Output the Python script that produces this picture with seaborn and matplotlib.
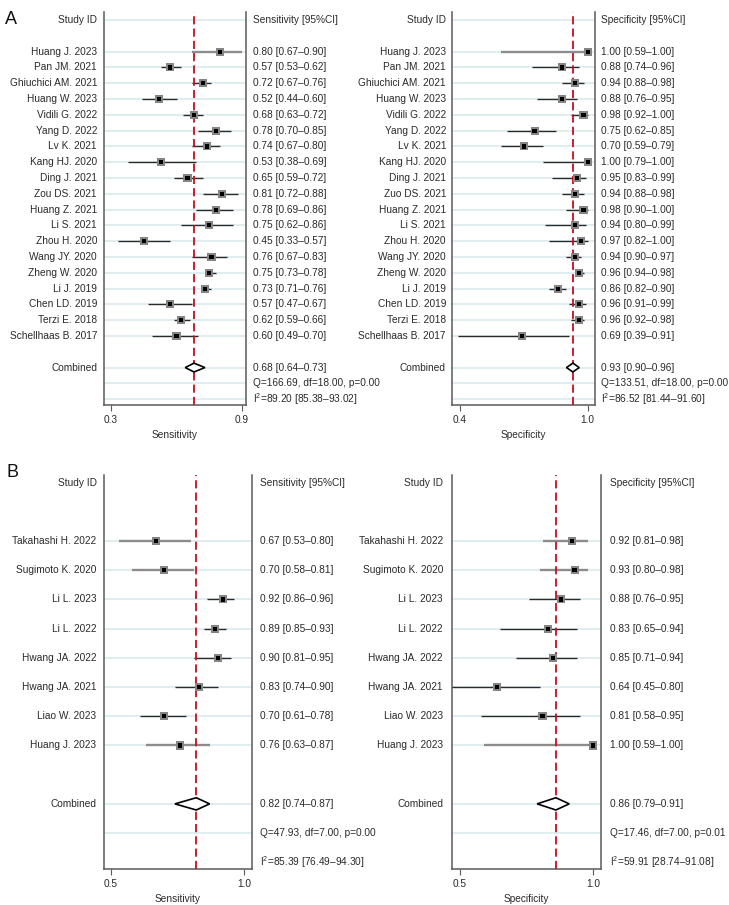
import numpy as np
import pandas as pd
import matplotlib
matplotlib.use("Agg")
import matplotlib.pyplot as plt
import seaborn as sns
from matplotlib.transforms import blended_transform_factory as btf

# ---------------- data: panel A ----------------
studies_a_sens = ["Huang J. 2023", "Pan JM. 2021", "Ghiuchici AM. 2021", "Huang W. 2023",
                  "Vidili G. 2022", "Yang D. 2022", "Lv K. 2021", "Kang HJ. 2020", "Ding J. 2021",
                  "Zou DS. 2021", "Huang Z. 2021", "Li S. 2021", "Zhou H. 2020", "Wang JY. 2020",
                  "Zheng W. 2020", "Li J. 2019", "Chen LD. 2019", "Terzi E. 2018", "Schellhaas B. 2017"]
studies_a_spec = ["Huang J. 2023", "Pan JM. 2021", "Ghiuchici AM. 2021", "Huang W. 2023",
                  "Vidili G. 2022", "Yang D. 2022", "Lv K. 2021", "Kang HJ. 2020", "Ding J. 2021",
                  "Zuo DS. 2021", "Huang Z. 2021", "Li S. 2021", "Zhou H. 2020", "Wang JY. 2020",
                  "Zheng W. 2020", "Li J. 2019", "Chen LD. 2019", "Terzi E. 2018", "Schellhaas B. 2017"]
sens_a = [0.80, 0.57, 0.72, 0.52, 0.68, 0.78, 0.74, 0.53, 0.65, 0.81, 0.78, 0.75, 0.45, 0.76, 0.75, 0.73, 0.57, 0.62, 0.60]
sens_a_lo = [0.67, 0.53, 0.67, 0.44, 0.63, 0.70, 0.67, 0.38, 0.59, 0.72, 0.69, 0.62, 0.33, 0.67, 0.73, 0.71, 0.47, 0.59, 0.49]
sens_a_hi = [0.90, 0.62, 0.76, 0.60, 0.72, 0.85, 0.80, 0.69, 0.72, 0.88, 0.86, 0.86, 0.57, 0.83, 0.78, 0.76, 0.67, 0.66, 0.70]
spec_a = [1.00, 0.88, 0.94, 0.88, 0.98, 0.75, 0.70, 1.00, 0.95, 0.94, 0.98, 0.94, 0.97, 0.94, 0.96, 0.86, 0.96, 0.96, 0.69]
spec_a_lo = [0.59, 0.74, 0.88, 0.76, 0.92, 0.62, 0.59, 0.79, 0.83, 0.88, 0.90, 0.80, 0.82, 0.90, 0.94, 0.82, 0.91, 0.92, 0.39]
spec_a_hi = [1.00, 0.96, 0.98, 0.95, 1.00, 0.85, 0.79, 1.00, 0.99, 0.98, 1.00, 0.99, 1.00, 0.97, 0.98, 0.90, 0.99, 0.98, 0.91]
comb_a_sens = [0.68, 0.64, 0.73]
comb_a_spec = [0.93, 0.90, 0.96]
q_a_sens = [166.69, 18.00, 0.00]
q_a_spec = [133.51, 18.00, 0.00]
i2_a_sens = [89.20, 85.38, 93.02]
i2_a_spec = [86.52, 81.44, 91.60]

# ---------------- data: panel B ----------------
studies_b = ["Takahashi H. 2022", "Sugimoto K. 2020", "Li L. 2023", "Li L. 2022",
             "Hwang JA. 2022", "Hwang JA. 2021", "Liao W. 2023", "Huang J. 2023"]
sens_b = [0.67, 0.70, 0.92, 0.89, 0.90, 0.83, 0.70, 0.76]
sens_b_lo = [0.53, 0.58, 0.86, 0.85, 0.81, 0.74, 0.61, 0.63]
sens_b_hi = [0.80, 0.81, 0.96, 0.93, 0.95, 0.90, 0.78, 0.87]
spec_b = [0.92, 0.93, 0.88, 0.83, 0.85, 0.64, 0.81, 1.00]
spec_b_lo = [0.81, 0.80, 0.76, 0.65, 0.71, 0.45, 0.58, 0.59]
spec_b_hi = [0.98, 0.98, 0.95, 0.94, 0.94, 0.80, 0.95, 1.00]
comb_b_sens = [0.82, 0.74, 0.87]
comb_b_spec = [0.86, 0.79, 0.91]
q_b_sens = [47.93, 7.00, 0.00]
q_b_spec = [17.46, 7.00, 0.01]
i2_b_sens = [85.39, 76.49, 94.30]
i2_b_spec = [59.91, 28.74, 91.08]

# CI line shade per study (style): True -> light gray line
gray_a = [True] + [False] * 18
gray_b = [True, True, False, False, False, False, False, True]

ticks_a_sens = [0.3, 0.9]
ticks_a_spec = [0.4, 1.0]
ticks_b = [0.5, 1.0]

# ---------------- style ----------------
sns.set_theme(style="white")
plt.rcParams['font.family'] = ['Liberation Sans', 'DejaVu Sans']
plt.rcParams['mathtext.fontset'] = 'custom'
plt.rcParams['mathtext.rm'] = 'Liberation Sans'
plt.rcParams['mathtext.it'] = 'Liberation Sans'
TXT = '#2a2a2a'
FS = 7.3
GRID = '#d6e8ec'
SPINE = '#5a5a5a'
RED = '#c0101e'

fig = plt.figure(figsize=(7.29, 9.05), dpi=100)
W, H = 729.0, 905.0


def add_ax(x0, x1, y0, y1):
    return fig.add_axes([x0 / W, 1 - y1 / H, (x1 - x0) / W, (y1 - y0) / H])


def fmt_ci(e, l, h):
    return f"{e:.2f} [{l:.2f}\u2013{h:.2f}]"


def panel(ax, names, est, lo, hi, comb, q, i2, header, xlabel, ticks, xlim,
          ylim, gray, n_gap, grid_header, grid_i2, dia_h, name_off, val_off):
    n = len(names)
    rows = np.arange(n) + 2
    r_comb = n + 2 + n_gap
    r_q, r_i2 = r_comb + 1, r_comb + 2
    ax.set_xlim(*xlim)
    ax.set_ylim(*ylim)
    # gridlines
    grid_rows = list(rows) + [r_comb, r_q]
    if grid_header:
        grid_rows.append(0)
    if grid_i2:
        grid_rows.append(r_i2)
    for r in grid_rows:
        ax.axhline(r, color=GRID, lw=1.1, zorder=0)
    # CI lines
    for e, l, h, r, g in zip(est, lo, hi, rows, gray):
        ax.hlines(r, l, h, color='#8c8c8c' if g else '#2a2a2a',
                  lw=1.7 if g else 1.0, zorder=2)
    # pooled line
    ax.axvline(comb[0], color=RED, lw=1.3, ls=(0, (4.5, 2.3)), zorder=3)
    # points
    df = pd.DataFrame({"est": est, "row": rows})
    sns.scatterplot(data=df, x="est", y="row", marker='s', s=34, color='#858585',
                    edgecolor='none', linewidth=0, ax=ax, zorder=4, legend=False)
    sns.scatterplot(data=df, x="est", y="row", marker='s', s=9, color='black',
                    edgecolor='none', linewidth=0, ax=ax, zorder=5, legend=False)
    # diamond
    dx = [comb[1], comb[0], comb[2], comb[0], comb[1]]
    dy = [r_comb, r_comb - dia_h, r_comb, r_comb + dia_h, r_comb]
    ax.fill(dx, dy, facecolor='white', edgecolor='black', lw=1.2, zorder=6)
    # axes look
    for s in ['left', 'right', 'bottom']:
        ax.spines[s].set_visible(True)
        ax.spines[s].set_color(SPINE)
        ax.spines[s].set_linewidth(1.1)
    ax.spines['top'].set_visible(False)
    ax.set_yticks([])
    ax.set_xticks(ticks)
    ax.set_xticklabels([f"{t:.1f}" for t in ticks])
    ax.tick_params(axis='x', bottom=True, length=4.5, width=0.8, color=SPINE,
                   pad=2.5, labelsize=FS, labelcolor=TXT)
    ax.set_xlabel(xlabel, fontsize=FS, color=TXT, labelpad=4)
    ax.set_ylabel("")
    tr = btf(ax.transAxes, ax.transData)
    kw = dict(transform=tr, fontsize=FS, color=TXT, va='center', clip_on=False)
    ax.text(name_off, 0, "Study ID", ha='right', **kw)
    ax.text(val_off, 0, header, ha='left', **kw)
    for nm, e, l, h, r in zip(names, est, lo, hi, rows):
        ax.text(name_off, r, nm, ha='right', **kw)
        ax.text(val_off, r, fmt_ci(e, l, h), ha='left', **kw)
    ax.text(name_off, r_comb, "Combined", ha='right', **kw)
    ax.text(val_off, r_comb, fmt_ci(*comb), ha='left', **kw)
    ax.text(val_off, r_q, f"Q={q[0]:.2f}, df={q[1]:.2f}, p={q[2]:.2f}", ha='left', **kw)
    ax.text(val_off, r_i2, f"I$^2$={i2[0]:.2f} [{i2[1]:.2f}\u2013{i2[2]:.2f}]", ha='left', **kw)


# Panel A
axA1 = add_ax(104, 246, 12, 405)
panel(axA1, studies_a_sens, sens_a, sens_a_lo, sens_a_hi, comb_a_sens, q_a_sens, i2_a_sens,
      "Sensitivity [95%CI]", "Sensitivity", ticks_a_sens, (0.268, 0.918), (24.37, -0.51),
      gray_a, 1, True, True, 0.28, -7 / 142, 1 + 7 / 142)
axA2 = add_ax(452, 595, 12, 405)
panel(axA2, studies_a_spec, spec_a, spec_a_lo, spec_a_hi, comb_a_spec, q_a_spec, i2_a_spec,
      "Specificity [95%CI]", "Specificity", ticks_a_spec, (0.362, 1.034), (24.37, -0.51),
      gray_a, 1, True, True, 0.28, -6 / 143, 1 + 6 / 143)

# Panel B
axB1 = add_ax(104, 252, 475, 869)
panel(axB1, studies_b, sens_b, sens_b_lo, sens_b_hi, comb_b_sens, q_b_sens, i2_b_sens,
      "Sensitivity [95%CI]", "Sensitivity", ticks_b, (0.474, 1.029), (13.23, -0.26),
      gray_b, 1, False, False, 0.21, -7.5 / 148, 1 + 7.5 / 148)
axB2 = add_ax(452, 601, 475, 869)
panel(axB2, studies_b, spec_b, spec_b_lo, spec_b_hi, comb_b_spec, q_b_spec, i2_b_spec,
      "Specificity [95%CI]", "Specificity", ticks_b, (0.471, 1.029), (13.23, -0.26),
      gray_b, 1, False, False, 0.21, -9 / 149, 1 + 8.5 / 149)

fig.text(5 / W, 1 - 20 / H, "A", fontsize=13, color='#111', ha='left', va='center')
fig.text(7 / W, 1 - 472 / H, "B", fontsize=13, color='#111', ha='left', va='center')

fig.savefig("out.png", dpi=100)
